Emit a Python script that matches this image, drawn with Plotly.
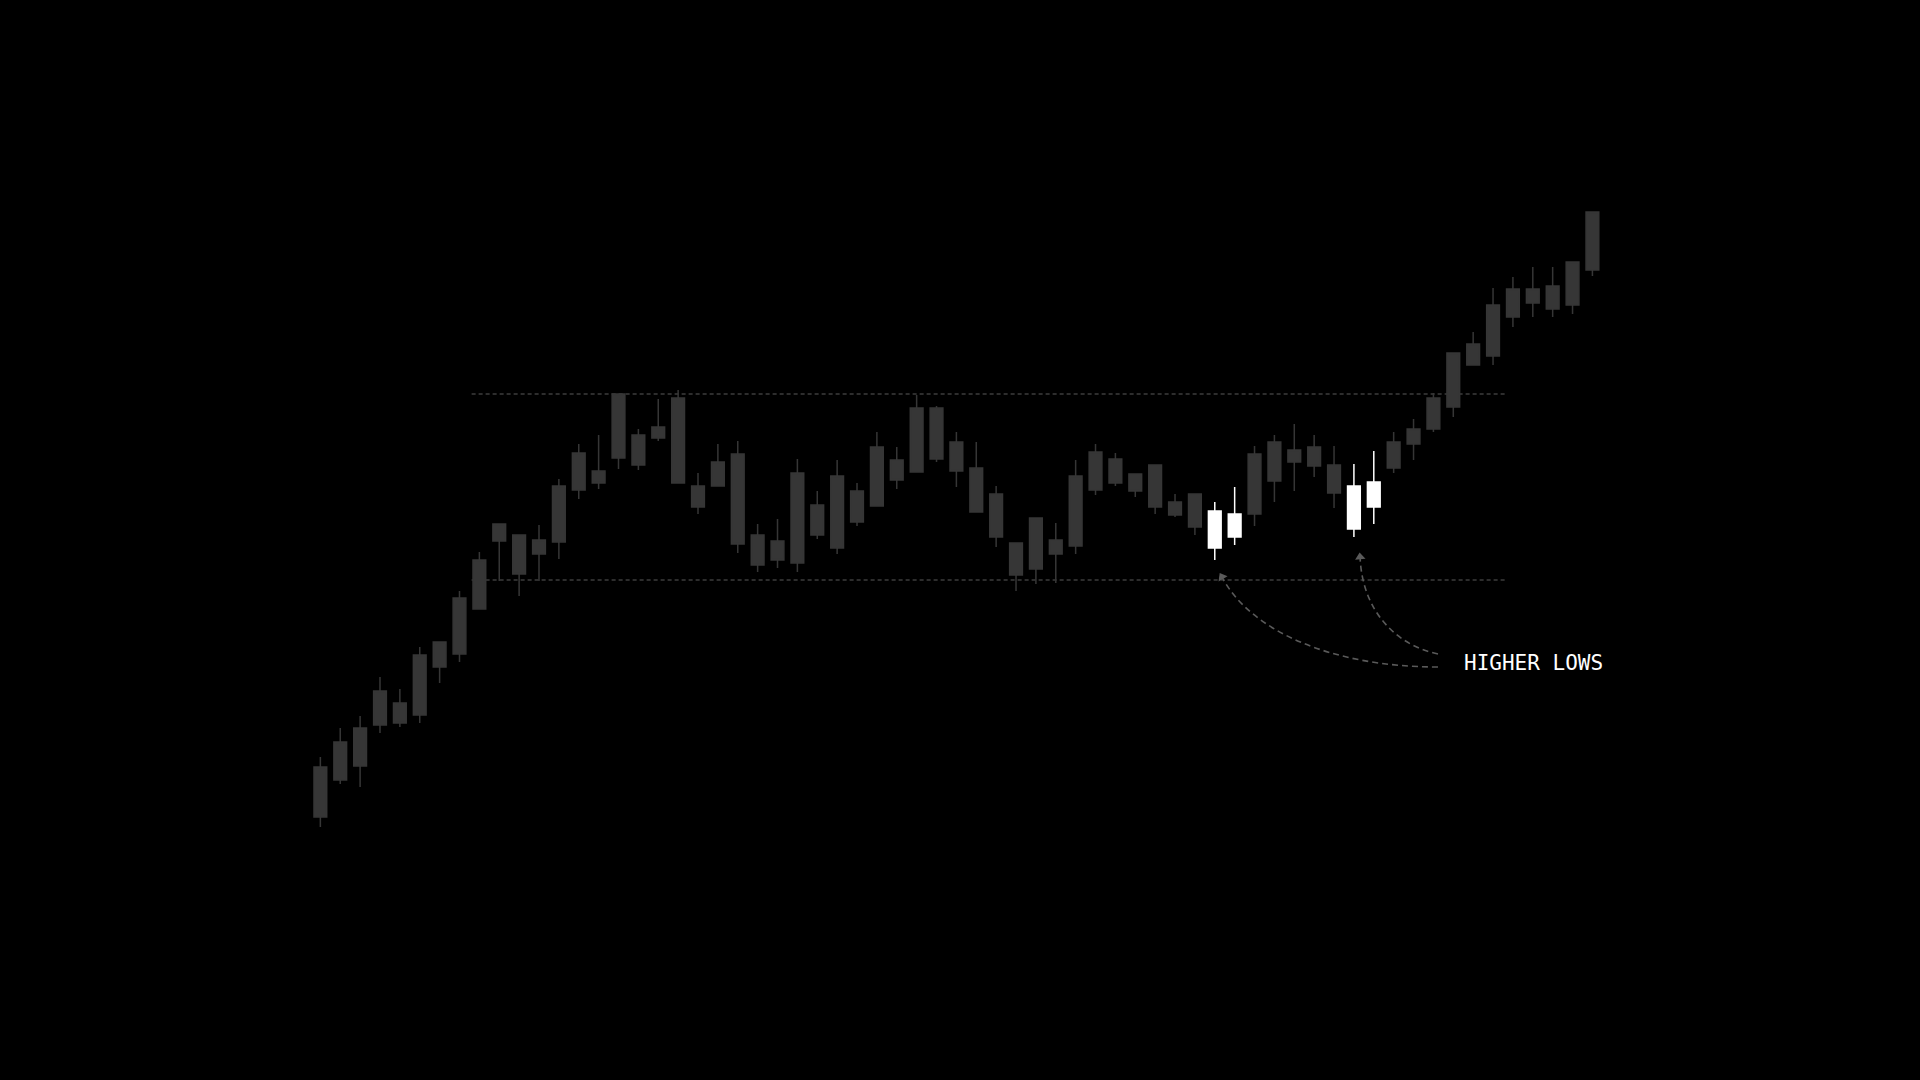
import plotly.graph_objects as go

# candle data (price units), one entry per session
opens = [26.3, 30.0, 31.4, 35.5, 37.7, 36.5, 41.3, 42.6, 47.1, 53.9,
         54.5, 52.6, 53.8, 59.0, 60.9, 62.2, 64.5, 64.2, 68.2, 59.4,
         59.4, 62.6, 54.5, 53.9, 51.7, 57.5, 53.2, 58.9, 57.4, 62.0,
         60.8, 67.2, 63.8, 61.2, 58.6, 53.7, 51.1, 54.0, 53.4, 59.0,
         62.1, 60.6, 61.5, 57.8, 58.6, 53.2, 54.3, 56.6, 59.9, 61.8,
         63.3, 61.5, 55.1, 57.3, 61.2, 63.6, 65.1, 67.3, 71.5, 72.4,
         76.3, 77.7, 77.1, 77.5, 81.0]
closes = [31.3, 33.8, 35.2, 38.9, 35.7, 42.5, 43.8, 48.2, 52.0, 55.6,
          50.6, 54.0, 59.4, 62.7, 59.7, 68.6, 61.5, 65.3, 59.7, 57.3,
          61.8, 53.6, 51.5, 52.0, 60.7, 54.5, 60.4, 55.8, 63.3, 60.0,
          67.2, 62.1, 60.9, 56.8, 54.3, 50.5, 56.2, 52.6, 60.4, 62.8,
          59.7, 58.9, 57.3, 56.5, 55.3, 56.9, 56.6, 62.6, 63.8, 63.0,
          61.4, 58.7, 59.4, 59.8, 63.8, 65.1, 68.2, 72.7, 73.6, 77.5,
          79.1, 79.1, 79.4, 81.8, 86.8]
highs = [32.3, 35.2, 36.4, 40.3, 39.1, 43.3, 43.8, 48.9, 52.8, 55.6,
         54.5, 55.5, 60.1, 63.6, 64.5, 68.6, 65.1, 68.1, 69.0, 60.7,
         63.6, 63.9, 55.6, 56.1, 62.1, 58.9, 62.0, 59.7, 64.8, 63.3,
         68.5, 67.4, 64.8, 63.8, 59.4, 53.7, 56.2, 55.7, 62.0, 63.6,
         62.7, 60.6, 61.5, 58.6, 58.6, 57.8, 59.3, 63.4, 64.5, 65.6,
         64.5, 63.4, 61.6, 62.9, 64.8, 66.1, 68.7, 72.7, 74.8, 79.2,
         80.3, 81.3, 81.3, 81.8, 86.8]
lows = [25.3, 29.6, 29.3, 34.7, 35.3, 35.7, 39.7, 41.8, 47.1, 49.9,
        48.4, 49.9, 52.1, 58.1, 59.1, 61.1, 61.0, 63.9, 59.7, 56.6,
        59.4, 52.7, 50.8, 51.2, 50.8, 54.1, 52.6, 55.4, 57.4, 59.1,
        60.8, 61.8, 59.3, 56.8, 53.3, 48.9, 49.6, 49.7, 52.6, 58.5,
        59.4, 58.3, 56.6, 56.3, 54.5, 52.0, 53.5, 55.4, 57.8, 58.9,
        60.3, 57.2, 54.3, 55.6, 60.7, 62.0, 64.8, 66.3, 71.5, 71.5,
        75.3, 76.3, 76.3, 76.6, 80.4]

# the two pairs of candles that mark the higher lows
highlighted = [45, 46, 52, 53]

resistance = 68.6
support = 50.0
range_start, range_end = 7.61, 59.69

label = "HIGHER LOWS"

GREY = "#363636"
WHITE = "#ffffff"
GUIDE = "#5a5a5a"

idx = list(range(len(opens)))
plain = [i for i in idx if i not in highlighted]


def _subset(values, which):
    return [values[i] for i in which]


fig = go.Figure()

fig.add_trace(go.Candlestick(
    x=plain, open=_subset(opens, plain), high=_subset(highs, plain),
    low=_subset(lows, plain), close=_subset(closes, plain),
    increasing=dict(line=dict(color=GREY, width=1.5), fillcolor=GREY),
    decreasing=dict(line=dict(color=GREY, width=1.5), fillcolor=GREY),
    whiskerwidth=0, showlegend=False, hoverinfo="skip",
))
fig.add_trace(go.Candlestick(
    x=highlighted, open=_subset(opens, highlighted), high=_subset(highs, highlighted),
    low=_subset(lows, highlighted), close=_subset(closes, highlighted),
    increasing=dict(line=dict(color=WHITE, width=1.5), fillcolor=WHITE),
    decreasing=dict(line=dict(color=WHITE, width=1.5), fillcolor=WHITE),
    whiskerwidth=0, showlegend=False, hoverinfo="skip",
))

# range boundaries
for level in (resistance, support):
    fig.add_shape(type="line", x0=range_start, x1=range_end, y0=level, y1=level,
                  xref="x", yref="y", line=dict(color=GUIDE, width=1.2, dash="4px,3px"),
                  layer="below")

# curved arrows from the label to the two lows (cubic bezier, data units)
arrows = [
    [(56.23, 41.3), (50.80, 41.3), (46.77, 45.0), (45.36, 50.3)],
    [(56.23, 42.6), (54.07, 43.5), (52.41, 47.0), (52.31, 52.3)],
]
head_angles = [-30, -6]
for pts, ang in zip(arrows, head_angles):
    (x0, y0), (x1, y1), (x2, y2), (x3, y3) = pts
    fig.add_shape(type="path", xref="x", yref="y",
                  path=f"M {x0},{y0} C {x1},{y1} {x2},{y2} {x3},{y3}",
                  line=dict(color=GUIDE, width=1.6, dash="6px,4px"))
    fig.add_trace(go.Scatter(x=[x3], y=[y3], mode="markers",
                             marker=dict(symbol="triangle-up", size=9, angle=ang, color=GUIDE),
                             showlegend=False, hoverinfo="skip"))

fig.add_annotation(x=57.44, y=41.7, xref="x", yref="y", text=label, showarrow=False,
                   xanchor="left", yanchor="middle",
                   font=dict(family="DejaVu Sans Mono", size=21, color=WHITE))

fig.update_layout(
    width=1920, height=1080,
    margin=dict(l=0, r=0, t=0, b=0),
    paper_bgcolor="#000000", plot_bgcolor="#000000",
    boxgap=0.36, boxgroupgap=0,
    xaxis=dict(range=[-16.118, 80.481], visible=False, rangeslider=dict(visible=False),
               showgrid=False, zeroline=False),
    yaxis=dict(range=[0, 108], visible=False, showgrid=False, zeroline=False),
    showlegend=False,
)

fig.write_html("out.html", config={"displayModeBar": False},
               post_script="document.body.style.margin='0';document.body.style.background='#000';")
